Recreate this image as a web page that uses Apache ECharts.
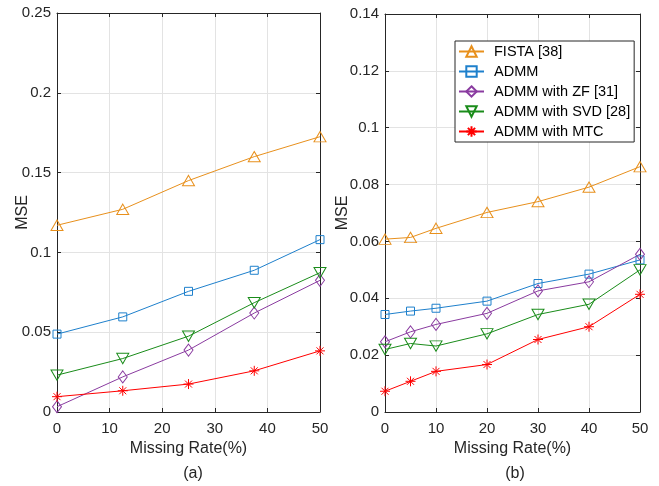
<!DOCTYPE html>
<html>
<head>
<meta charset="utf-8">
<script src="https://cdn.jsdelivr.net/npm/echarts@6/dist/echarts.min.js"></script>
<style>
  html, body { margin: 0; padding: 0; background: #fff; }
  #chart { width: 659px; height: 486px; }
</style>
</head>
<body>
<div id="chart"></div>
<script>
// missing rates (%) for each panel
const missingA = [0, 12.5, 25, 37.5, 50];
const missingB = [0, 5, 10, 20, 30, 40, 50];

const seriesNames = ['FISTA [38]', 'ADMM', 'ADMM with ZF [31]', 'ADMM with SVD [28]', 'ADMM with MTC'];

// panel (a)
const fistaA = [0.117, 0.127, 0.145, 0.160, 0.1725];
const admmA  = [0.0488, 0.0596, 0.0756, 0.0888, 0.108];
const zfA    = [0.0033, 0.022, 0.0388, 0.062, 0.0825];
const svdA   = [0.0231, 0.0335, 0.0475, 0.0685, 0.0873];
const mtcA   = [0.0096, 0.0133, 0.0175, 0.0258, 0.0383];

// panel (b)
const fistaB = [0.0608, 0.0614, 0.0646, 0.0702, 0.074, 0.0791, 0.0863];
const admmB  = [0.0343, 0.0355, 0.0365, 0.039, 0.0452, 0.0485, 0.0535];
const zfB    = [0.0247, 0.0282, 0.0308, 0.0347, 0.0426, 0.0458, 0.0555];
const svdB   = [0.022, 0.0241, 0.0232, 0.0275, 0.0343, 0.0379, 0.05];
const mtcB   = [0.0073, 0.0108, 0.0143, 0.0167, 0.0255, 0.03, 0.0414];

const FONT = '"Liberation Sans", Arial, Helvetica, sans-serif';
const AX = '#262626';
const colors = ['#E8901C', '#1E80CC', '#8A3BA0', '#1A8C1A', '#FF0000'];
const symbols = [
  'path://M5,0 L10,8.66 L0,8.66 Z',
  'rect',
  'path://M5,0 L10,6.5 L5,13 L0,6.5 Z',
  'path://M0,0 L10,0 L5,8.66 Z',
  'path://M0,5 L10,5 M5,0 L5,10 M1.5,1.5 L8.5,8.5 M8.5,1.5 L1.5,8.5'
];
const symbolSizes = [[12, 10.4], [8, 8], [9, 12], [12, 10.4], [10, 10]];

function pairs(xs, ys) { return xs.map((x, i) => [x, ys[i]]); }

function makeSeries(xs, sets, axisIdx) {
  return sets.map((ys, k) => ({
    name: seriesNames[k],
    type: 'line',
    xAxisIndex: axisIdx,
    yAxisIndex: axisIdx,
    data: pairs(xs, ys),
    symbol: symbols[k],
    symbolSize: symbolSizes[k],
    clip: false,
    lineStyle: { color: colors[k], width: 1 },
    itemStyle: { color: 'transparent', borderColor: colors[k], borderWidth: 1 },
    emphasis: { disabled: true },
    animation: false
  }));
}

function bottomX(grid, nameGap) {
  return {
    type: 'value', gridIndex: grid, min: 0, max: 50, interval: 10, position: 'bottom',
    name: 'Missing Rate(%)', nameLocation: 'middle', nameGap: nameGap, nameMoveOverlap: false,
    nameTextStyle: { fontFamily: FONT, fontSize: 16, color: AX },
    axisLine: { show: true, onZero: false, lineStyle: { color: AX, width: 1 } },
    axisTick: { show: true, inside: true, length: 4, lineStyle: { color: AX } },
    axisLabel: { fontFamily: FONT, fontSize: 15, color: AX, margin: 9 },
    splitLine: { show: true, lineStyle: { color: '#e3e3e3', width: 1 } }
  };
}
function topX(grid) {
  return {
    type: 'value', gridIndex: grid, min: 0, max: 50, interval: 10, position: 'top',
    axisLine: { show: true, onZero: false, lineStyle: { color: AX, width: 1 } },
    axisTick: { show: true, inside: true, length: 4, lineStyle: { color: AX } },
    axisLabel: { show: false }, splitLine: { show: false }
  };
}
function leftY(grid, max, interval, nameGap) {
  return {
    type: 'value', gridIndex: grid, min: 0, max: max, interval: interval, position: 'left',
    name: 'MSE', nameLocation: 'middle', nameGap: nameGap, nameRotate: 90, nameMoveOverlap: false,
    nameTextStyle: { fontFamily: FONT, fontSize: 16, color: AX },
    axisLine: { show: true, onZero: false, lineStyle: { color: AX, width: 1 } },
    axisTick: { show: true, inside: true, length: 4, lineStyle: { color: AX } },
    axisLabel: { fontFamily: FONT, fontSize: 15, color: AX, margin: 6 },
    splitLine: { show: true, lineStyle: { color: '#e3e3e3', width: 1 } }
  };
}
function rightY(grid, max, interval) {
  return {
    type: 'value', gridIndex: grid, min: 0, max: max, interval: interval, position: 'right',
    axisLine: { show: true, onZero: false, lineStyle: { color: AX, width: 1 } },
    axisTick: { show: true, inside: true, length: 4, lineStyle: { color: AX } },
    axisLabel: { show: false }, splitLine: { show: false }
  };
}

const chart = echarts.init(document.getElementById('chart'), null, { renderer: 'canvas' });

chart.setOption({
  backgroundColor: '#fff',
  animation: false,
  title: [
    { text: '(a)', left: 188, top: 461, textAlign: 'center',
      textStyle: { fontFamily: FONT, fontSize: 16, fontWeight: 'normal', color: AX } },
    { text: '(b)', left: 510, top: 461, textAlign: 'center',
      textStyle: { fontFamily: FONT, fontSize: 16, fontWeight: 'normal', color: AX } }
  ],
  grid: [
    { left: 57, top: 13, width: 263, height: 399 },
    { left: 385, top: 14, width: 255, height: 398 }
  ],
  legend: {
    data: seriesNames,
    left: 455, top: 41,
    orient: 'vertical',
    backgroundColor: '#fff',
    borderColor: AX, borderWidth: 1, borderRadius: 0,
    padding: [3, 4, 3, 3],
    itemWidth: 25, itemHeight: 13, itemGap: 5,
    textStyle: { fontFamily: FONT, fontSize: 14.5, color: '#000', padding: [0, 0, 0, 5] }
  },
  xAxis: [bottomX(0, 29), topX(0), bottomX(1, 29), topX(1)],
  yAxis: [leftY(0, 0.25, 0.05, 26), rightY(0, 0.25, 0.05), leftY(1, 0.14, 0.02, 34), rightY(1, 0.14, 0.02)],
  series: [
    ...makeSeries(missingA, [fistaA, admmA, zfA, svdA, mtcA], 0),
    ...makeSeries(missingB, [fistaB, admmB, zfB, svdB, mtcB], 2)
  ]
});
</script>
</body>
</html>
